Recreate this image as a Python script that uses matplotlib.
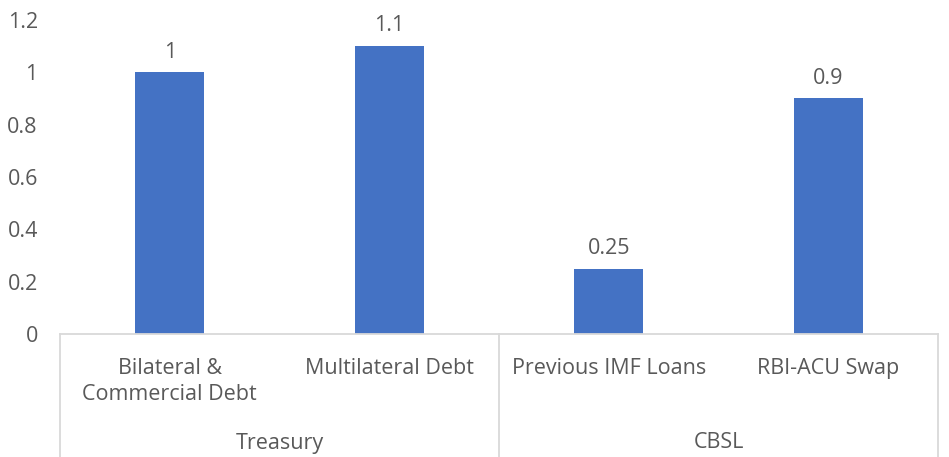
import matplotlib
matplotlib.use('Agg')
import matplotlib.pyplot as plt
from matplotlib.lines import Line2D

# data
categories = ['Bilateral &\nCommercial Debt', 'Multilateral Debt', 'Previous IMF Loans', 'RBI-ACU Swap']
groups = ['Treasury', 'CBSL']
group_sizes = [2, 2]
values = [1, 1.1, 0.25, 0.9]
value_labels = ['1', '1.1', '0.25', '0.9']
y_ticks = [0, 0.2, 0.4, 0.6, 0.8, 1, 1.2]
y_tick_labels = ['0', '0.2', '0.4', '0.6', '0.8', '1', '1.2']

plt.rcParams['font.family'] = ['Open Sans', 'DejaVu Sans']
text_col = '#595959'
line_col = '#D9D9D9'
bar_col = '#4472C4'
fs = 15.5

W, H = 949, 457
fig = plt.figure(figsize=(W / 100, H / 100), dpi=100)
ax = fig.add_axes([60 / W, (H - 334) / H, 878 / W, 314 / H])

x = list(range(len(values)))
ax.bar(x, values, width=0.315, color=bar_col, zorder=2)
for xi, v, lab in zip(x, values, value_labels):
    ax.annotate(lab, (xi, v), xytext=(0, 7), textcoords='offset points',
                ha='center', va='bottom', fontsize=fs, color=text_col)

ax.set_xlim(-0.5, len(values) - 0.5)
ax.set_ylim(0, 1.2)
ax.set_yticks(y_ticks)
ax.set_yticklabels(y_tick_labels, fontsize=fs, color=text_col)
ax.tick_params(axis='y', length=0, pad=16)

ax.set_xticks(x)
ax.set_xticklabels(categories, fontsize=fs, color=text_col, linespacing=1.35)
ax.tick_params(axis='x', length=0, pad=17)

for s in ['top', 'right', 'left']:
    ax.spines[s].set_visible(False)
ax.spines['bottom'].set_color(line_col)
ax.spines['bottom'].set_linewidth(1.3)

# group labels and separator lines below the axis
trans = ax.get_xaxis_transform()
bottom = -(H - 334) / 314
edges = [-0.5]
for n in group_sizes:
    edges.append(edges[-1] + n)
for e in edges:
    ax.add_line(Line2D([e, e], [0, bottom], transform=trans, color=line_col,
                       lw=1.3, clip_on=False))
for g, a, b in zip(groups, edges[:-1], edges[1:]):
    ax.text((a + b) / 2, -109 / 314, g, transform=trans, ha='center', va='center',
            fontsize=fs, color=text_col)

fig.savefig('out.png', dpi=100)
